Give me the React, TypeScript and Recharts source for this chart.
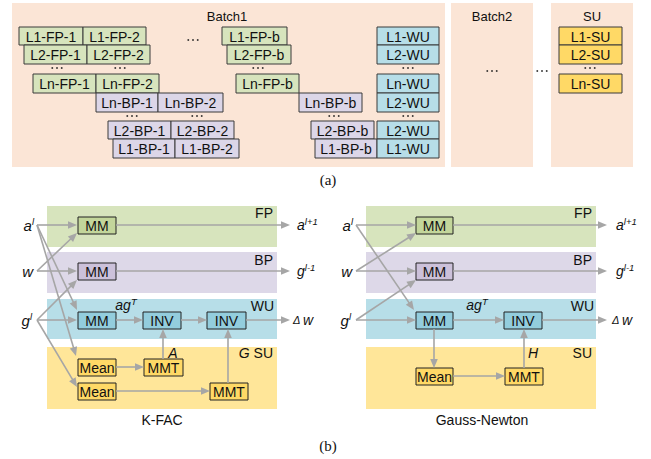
import React from 'react';
import { ComposedChart, XAxis, YAxis, ReferenceArea, ReferenceLine, Scatter } from 'recharts';

const W = 651;
const H = 459;
const FONT = '"Liberation Sans", Arial, Helvetica, sans-serif';
const SERIF = '"Liberation Serif", "Times New Roman", serif';

// ---------- (a) pipeline diagram ----------
const panelsA = [
  { name: 'Batch1', x1: 12, x2: 445, y1: 3, y2: 167 },
  { name: 'Batch2', x1: 451, x2: 533, y1: 3, y2: 167 },
  { name: 'SU', x1: 551, x2: 633, y1: 3, y2: 167 },
];
const panelTitles = [
  { t: 'Batch1', x: 227, y: 16 },
  { t: 'Batch2', x: 492, y: 16 },
  { t: 'SU', x: 592, y: 16 },
];
const fpBoxesA = [
  { t: 'L1-FP-1', x1: 19, x2: 83, y1: 27, y2: 45 },
  { t: 'L1-FP-2', x1: 83, x2: 146, y1: 27, y2: 45 },
  { t: 'L1-FP-b', x1: 222, x2: 287, y1: 27, y2: 45 },
  { t: 'L2-FP-1', x1: 24, x2: 87, y1: 45, y2: 64 },
  { t: 'L2-FP-2', x1: 87, x2: 150, y1: 45, y2: 64 },
  { t: 'L2-FP-b', x1: 227, x2: 291, y1: 45, y2: 64 },
  { t: 'Ln-FP-1', x1: 33, x2: 96, y1: 74, y2: 93 },
  { t: 'Ln-FP-2', x1: 96, x2: 159, y1: 74, y2: 93 },
  { t: 'Ln-FP-b', x1: 236, x2: 299, y1: 74, y2: 93 },
];
const bpBoxesA = [
  { t: 'Ln-BP-1', x1: 96, x2: 158, y1: 93, y2: 112 },
  { t: 'Ln-BP-2', x1: 158, x2: 223, y1: 93, y2: 112 },
  { t: 'Ln-BP-b', x1: 299, x2: 362, y1: 93, y2: 112 },
  { t: 'L2-BP-1', x1: 108, x2: 171, y1: 121, y2: 139 },
  { t: 'L2-BP-2', x1: 171, x2: 234, y1: 121, y2: 139 },
  { t: 'L2-BP-b', x1: 311, x2: 374, y1: 121, y2: 139 },
  { t: 'L1-BP-1', x1: 113, x2: 175, y1: 139, y2: 158 },
  { t: 'L1-BP-2', x1: 175, x2: 239, y1: 139, y2: 158 },
  { t: 'L1-BP-b', x1: 315, x2: 377, y1: 139, y2: 158 },
];
const wuBoxesA = [
  { t: 'L1-WU', x1: 377, x2: 439, y1: 27, y2: 45 },
  { t: 'L2-WU', x1: 377, x2: 439, y1: 45, y2: 64 },
  { t: 'Ln-WU', x1: 377, x2: 439, y1: 74, y2: 93 },
  { t: 'L2-WU', x1: 377, x2: 439, y1: 93, y2: 112 },
  { t: 'L2-WU', x1: 377, x2: 439, y1: 121, y2: 139 },
  { t: 'L1-WU', x1: 377, x2: 439, y1: 139, y2: 158 },
];
const suBoxesA = [
  { t: 'L1-SU', x1: 559, x2: 622, y1: 27, y2: 45 },
  { t: 'L2-SU', x1: 559, x2: 622, y1: 45, y2: 64 },
  { t: 'Ln-SU', x1: 559, x2: 622, y1: 74, y2: 93 },
];
const ellipsisA = [
  { x: 193, y: 40 },
  { x: 57, y: 68 }, { x: 120, y: 68 }, { x: 258, y: 68 }, { x: 408, y: 68 }, { x: 590, y: 68 },
  { x: 132, y: 116 }, { x: 197, y: 116 }, { x: 334, y: 116 }, { x: 408, y: 116 },
  { x: 492, y: 71 }, { x: 542, y: 71 },
];

// ---------- (b) dataflow diagrams ----------
const bandXs = [
  { x1: 47, x2: 277 },
  { x1: 366, x2: 596 },
];
const bandRows = [
  { g: 'fp', y1: 206, y2: 247 },
  { g: 'bp', y1: 252, y2: 293 },
  { g: 'wu', y1: 299, y2: 339 },
  { g: 'su', y1: 347, y2: 409 },
];
const boxesB = [
  { t: 'MM', g: 'fp', x1: 78, x2: 116, y1: 217, y2: 234 },
  { t: 'MM', g: 'bp', x1: 78, x2: 116, y1: 263, y2: 280 },
  { t: 'MM', g: 'wu', x1: 78, x2: 116, y1: 312, y2: 329 },
  { t: 'INV', g: 'wu', x1: 143, x2: 181, y1: 312, y2: 329 },
  { t: 'INV', g: 'wu', x1: 207, x2: 246, y1: 312, y2: 329 },
  { t: 'Mean', g: 'su', x1: 78, x2: 116, y1: 359, y2: 376 },
  { t: 'MMT', g: 'su', x1: 144, x2: 183, y1: 359, y2: 376 },
  { t: 'Mean', g: 'su', x1: 78, x2: 116, y1: 383, y2: 400 },
  { t: 'MMT', g: 'su', x1: 210, x2: 248, y1: 383, y2: 400 },
  { t: 'MM', g: 'fp', x1: 416, x2: 453, y1: 217, y2: 234 },
  { t: 'MM', g: 'bp', x1: 416, x2: 453, y1: 263, y2: 280 },
  { t: 'MM', g: 'wu', x1: 416, x2: 453, y1: 312, y2: 329 },
  { t: 'INV', g: 'wu', x1: 504, x2: 542, y1: 312, y2: 329 },
  { t: 'Mean', g: 'su', x1: 416, x2: 453, y1: 368, y2: 385 },
  { t: 'MMT', g: 'su', x1: 505, x2: 543, y1: 368, y2: 385 },
];
// arrows: [x1, y1, x2, y2]
const arrowsKFAC = [
  [37, 225, 77, 225],
  [37, 225, 77, 310],
  [37, 225, 76, 356],
  [37, 271, 77, 233],
  [37, 271, 77, 271],
  [37, 320, 77, 280],
  [37, 320, 77, 320],
  [37, 320, 77, 387],
  [116, 225, 290, 225],
  [116, 271, 290, 271],
  [116, 320, 143, 320],
  [181, 320, 207, 320],
  [246, 320, 290, 320],
  [116, 367, 144, 367],
  [163, 359, 163, 329],
  [116, 391, 210, 391],
  [228, 383, 228, 329],
];
const arrowsGN = [
  [356, 225, 416, 225],
  [356, 225, 414, 310],
  [356, 271, 416, 233],
  [356, 271, 416, 271],
  [356, 320, 416, 280],
  [356, 320, 416, 320],
  [453, 225, 607, 225],
  [453, 271, 607, 271],
  [453, 320, 504, 320],
  [542, 320, 607, 320],
  [434, 329, 434, 368],
  [453, 376, 505, 376],
  [524, 368, 524, 329],
];
const inputLabels = [
  { t: 'a', sup: 'l', x: 34, y: 225 },
  { t: 'w', x: 33, y: 271 },
  { t: 'g', sup: 'l', x: 32, y: 320 },
  { t: 'a', sup: 'l', x: 353, y: 225 },
  { t: 'w', x: 352, y: 271 },
  { t: 'g', sup: 'l', x: 351, y: 320 },
];
const outputLabels = [
  { t: 'a', sup: 'l+1', x: 297, y: 225 },
  { t: 'g', sup: 'l-1', x: 297, y: 271 },
  { t: 'w', lead: '\u0394 ', x: 293, y: 320 },
  { t: 'a', sup: 'l+1', x: 616, y: 225 },
  { t: 'g', sup: 'l-1', x: 616, y: 271 },
  { t: 'w', lead: '\u0394 ', x: 612, y: 320 },
];
const bandLabels = [
  { t: 'FP', x: 273, y: 213 },
  { t: 'BP', x: 273, y: 260 },
  { t: 'WU', x: 274, y: 306 },
  { t: 'SU', pre: 'G', x: 273, y: 353 },
  { t: 'FP', x: 592, y: 213 },
  { t: 'BP', x: 592, y: 260 },
  { t: 'WU', x: 594, y: 306 },
  { t: 'SU', x: 592, y: 353 },
];
const mathLabels = [
  { t: 'ag', sup: 'T', x: 126, y: 305 },
  { t: 'A', x: 173, y: 353 },
  { t: 'ag', sup: 'T', x: 477, y: 305 },
  { t: 'H', x: 533, y: 353 },
];
const captions = [
  { t: 'K-FAC', x: 162, y: 420 },
  { t: 'Gauss-Newton', x: 482, y: 420 },
];
const subfigLabels = [
  { t: '(a)', x: 328, y: 180 },
  { t: '(b)', x: 328, y: 446 },
];

// ---------- styles ----------
const PANEL_A = '#FBE5D6';
const BOX_A: Record<string, string> = { fp: '#D7E4BD', bp: '#DCD6E8', wu: '#B7DEE8', su: '#FFD966' };
const BAND_B: Record<string, string> = { fp: '#D7E4BD', bp: '#DDD8E8', wu: '#B7DEE8', su: '#FFE699' };
const BOX_B: Record<string, string> = { fp: '#C3D69B', bp: '#CCC1DA', wu: '#93CDDD', su: '#FFD966' };
const ARROW = '#A6A6A6';

const boxesA = [
  ...fpBoxesA.map((b) => ({ ...b, g: 'fp' })),
  ...bpBoxesA.map((b) => ({ ...b, g: 'bp' })),
  ...wuBoxesA.map((b) => ({ ...b, g: 'wu' })),
  ...suBoxesA.map((b) => ({ ...b, g: 'su' })),
];

type T = { x: number; y: number; t: string; sup?: string; pre?: string; lead?: string; anchor: string; size: number; italic?: boolean; serif?: boolean };
const texts: T[] = [
  ...panelTitles.map((d) => ({ ...d, anchor: 'middle', size: 13 })),
  ...boxesA.map((b) => ({ t: b.t, x: (b.x1 + b.x2) / 2, y: (b.y1 + b.y2) / 2 + 0.5, anchor: 'middle', size: 14 })),
  ...boxesB.map((b) => ({ t: b.t, x: (b.x1 + b.x2) / 2, y: (b.y1 + b.y2) / 2 + 0.5, anchor: 'middle', size: 14 })),
  ...inputLabels.map((d) => ({ ...d, anchor: 'end', size: 15, italic: true })),
  ...outputLabels.map((d) => ({ ...d, anchor: 'start', size: 14, italic: true })),
  ...bandLabels.map((d) => ({ ...d, anchor: 'end', size: 14 })),
  ...mathLabels.map((d) => ({ ...d, anchor: 'middle', size: 14, italic: true })),
  ...captions.map((d) => ({ ...d, anchor: 'middle', size: 14 })),
  ...subfigLabels.map((d) => ({ ...d, anchor: 'middle', size: 15, serif: true })),
];

const renderText = (p: any) => {
  const { cx, cy, payload } = p;
  const d = payload as T;
  return (
    <text
      x={cx}
      y={cy}
      dominantBaseline="central"
      textAnchor={d.anchor as any}
      fontSize={d.size}
      fill="#111"
      fontFamily={d.serif ? SERIF : FONT}
      fontStyle={d.italic ? 'italic' : 'normal'}
    >
      {d.pre ? <tspan fontStyle="italic">{d.pre + ' '}</tspan> : null}
      {d.lead ? <tspan fontSize={11}>{d.lead}</tspan> : null}
      {d.t}
      {d.sup ? (
        <tspan dy={-4.5} fontSize={9.5}>
          {d.sup}
        </tspan>
      ) : null}
    </text>
  );
};

const renderDots = (p: any) => {
  const { cx, cy } = p;
  return (
    <g fill="#222">
      <rect x={cx - 5.5} y={cy - 0.8} width={1.6} height={1.6} />
      <rect x={cx - 0.8} y={cy - 0.8} width={1.6} height={1.6} />
      <rect x={cx + 3.9} y={cy - 0.8} width={1.6} height={1.6} />
    </g>
  );
};

const ArrowShape = (p: any) => {
  const x1 = Number(p.x1), y1 = Number(p.y1), x2 = Number(p.x2), y2 = Number(p.y2);
  const dx = x2 - x1, dy = y2 - y1;
  const L = Math.hypot(dx, dy) || 1;
  const ux = dx / L, uy = dy / L;
  const hl = 9, hw = 3.8;
  const bx = x2 - ux * hl, by = y2 - uy * hl;
  return (
    <g>
      <line x1={x1} y1={y1} x2={bx + ux} y2={by + uy} stroke={ARROW} strokeWidth={1.6} />
      <polygon
        points={`${x2},${y2} ${bx - uy * hw},${by + ux * hw} ${bx + uy * hw},${by - ux * hw}`}
        fill={ARROW}
      />
    </g>
  );
};

export default function App() {
  const allArrows = [...arrowsKFAC, ...arrowsGN];
  return (
    <div style={{ position: 'absolute', left: 0, top: 0, width: W, height: H, background: '#fff', fontFamily: FONT }}>
      <ComposedChart width={W} height={H} margin={{ top: 0, right: 0, bottom: 0, left: 0 }}>
        <XAxis type="number" dataKey="x" domain={[0, W]} hide allowDataOverflow />
        <YAxis type="number" dataKey="y" domain={[0, H]} reversed hide allowDataOverflow />
        {panelsA.map((p) => (
          <ReferenceArea key={p.name} x1={p.x1} x2={p.x2} y1={p.y1} y2={p.y2} fill={PANEL_A} fillOpacity={1} stroke="none" ifOverflow="visible" />
        ))}
        {boxesA.map((b, i) => (
          <ReferenceArea key={'a' + i} x1={b.x1} x2={b.x2} y1={b.y1} y2={b.y2} fill={BOX_A[b.g]} fillOpacity={1} stroke="#3a3a3a" strokeWidth={1} ifOverflow="visible" />
        ))}
        {bandXs.map((bx, i) =>
          bandRows.map((r) => (
            <ReferenceArea key={'band' + i + r.g} x1={bx.x1} x2={bx.x2} y1={r.y1} y2={r.y2} fill={BAND_B[r.g]} fillOpacity={1} stroke="none" ifOverflow="visible" />
          ))
        )}
        {allArrows.map((a, i) => (
          <ReferenceLine
            key={'arr' + i}
            segment={[{ x: a[0], y: a[1] }, { x: a[2], y: a[3] }]}
            stroke={ARROW}
            shape={ArrowShape}
            ifOverflow="visible"
          />
        ))}
        {boxesB.map((b, i) => (
          <ReferenceArea key={'b' + i} x1={b.x1} x2={b.x2} y1={b.y1} y2={b.y2} fill={BOX_B[b.g]} fillOpacity={1} stroke="#222" strokeWidth={1} ifOverflow="visible" />
        ))}
        <Scatter data={ellipsisA} dataKey="y" shape={renderDots} isAnimationActive={false} />
        <Scatter data={texts} dataKey="y" shape={renderText} isAnimationActive={false} />
      </ComposedChart>
    </div>
  );
}
